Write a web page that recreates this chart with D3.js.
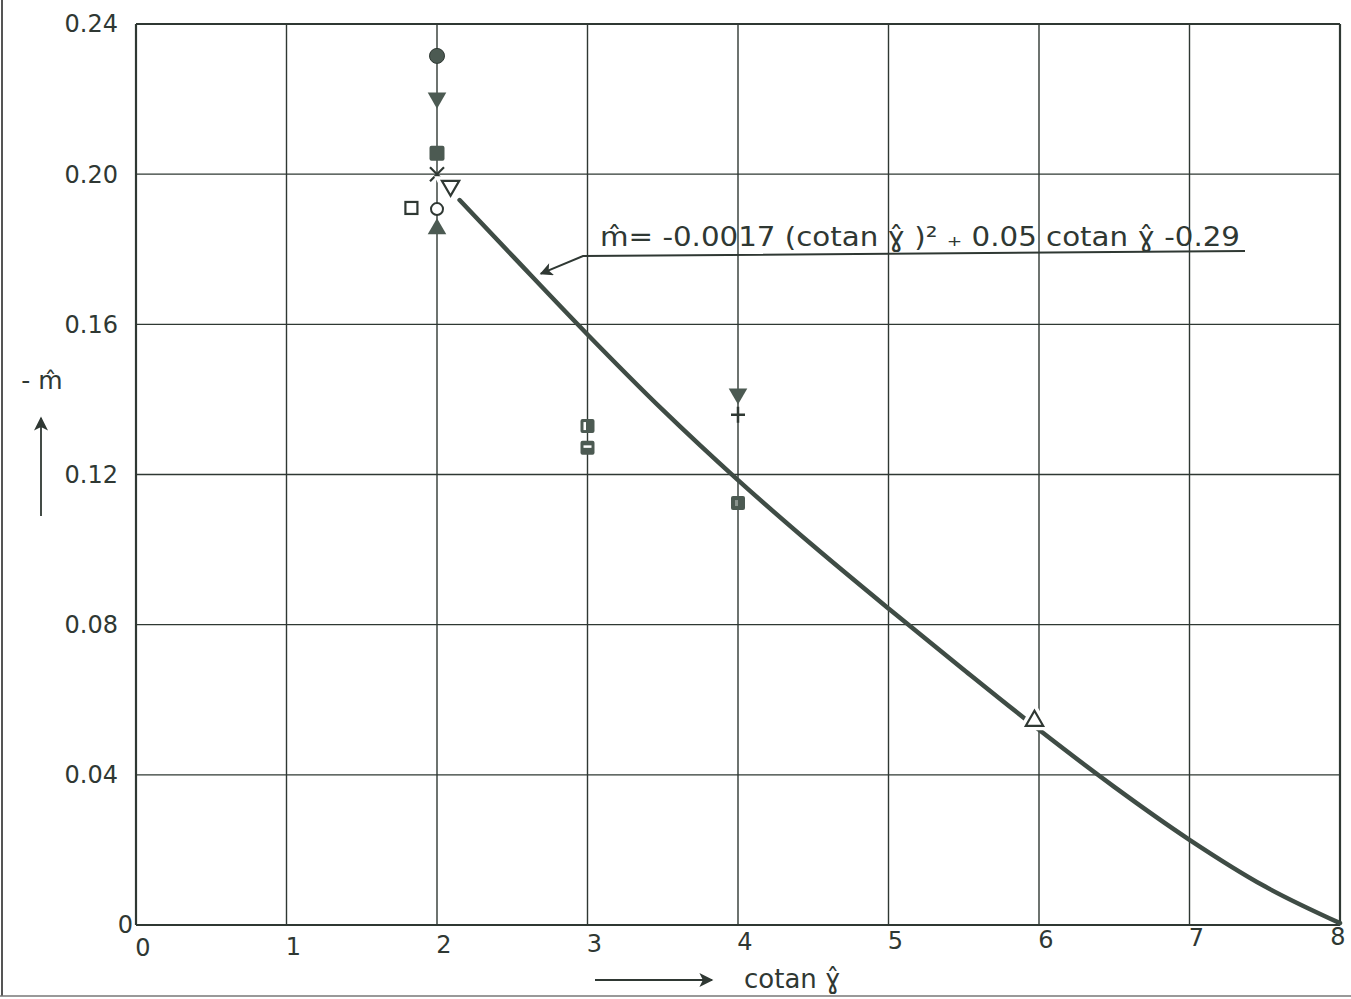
<!DOCTYPE html>
<meta charset="UTF-8">
<script src="https://d3js.org/d3.v7.min.js"></script>
<style>
  body { margin: 0; background: #fff; }
  text { font-family: "DejaVu Sans", sans-serif; fill: #2f3833; }
</style>
<svg id="chart" width="1351" height="999"></svg>
<script>
// axis ticks
var xTicks = [0, 1, 2, 3, 4, 5, 6, 7, 8];
var yTicks = [0, 0.04, 0.08, 0.12, 0.16, 0.20, 0.24];
var yTickLabels = ["0", "0.04", "0.08", "0.12", "0.16", "0.20", "0.24"];

// measured points (cotan gamma, -m)
var pointX     = [2, 2, 2, 2, 2.09, 1.83, 2, 2, 3, 3, 4, 4, 4, 5.97];
var pointY     = [0.2315, 0.2203, 0.2056, 0.200, 0.1969, 0.191, 0.1907, 0.1854, 0.1329, 0.1271, 0.1415, 0.1359, 0.1124, 0.0544];
var pointShape = ["dotFilled", "downFilled", "squareFilled", "cross", "downOpen", "squareOpen", "dotOpen", "upFilled",
                  "squareSplitV", "squareSplitH", "downFilled", "plus", "squareSplitDot", "upOpen"];

// fitted curve
var curveX = [2.15, 2.5, 3, 3.5, 4, 4.5, 5, 5.5, 6, 6.5, 7, 7.5, 8];
var curveY = [0.1931, 0.1783, 0.1573, 0.1372, 0.1185, 0.1010, 0.0843, 0.0680, 0.0520, 0.0368, 0.0227, 0.0103, 0.0005];

var ink = "#2f3833";
var svg = d3.select("#chart");

var x = d3.scaleLinear().domain([0, 8]).range([136, 1340]);
var y = d3.scaleLinear().domain([0, 0.24]).range([925, 24]);

// arrow markers
var defs = svg.append("defs");
function addArrow(id, w, h) {
  defs.append("marker")
      .attr("id", id)
      .attr("viewBox", "0 0 10 10")
      .attr("refX", 9).attr("refY", 5)
      .attr("markerWidth", w).attr("markerHeight", h)
      .attr("markerUnits", "userSpaceOnUse")
      .attr("orient", "auto")
    .append("path")
      .attr("d", "M0,0 L10,5 L0,10 L2.5,5 Z")
      .attr("fill", ink);
}
addArrow("arrow", 20, 13);
addArrow("arrowBig", 20, 14);

// page edge of the scan
svg.append("line").attr("x1", 2).attr("x2", 2).attr("y1", 0).attr("y2", 996)
    .attr("stroke", "#555").attr("stroke-width", 2);
svg.append("line").attr("x1", 0).attr("x2", 1351).attr("y1", 996).attr("y2", 996)
    .attr("stroke", "#777").attr("stroke-width", 1.5);

// grid lines
var grid = svg.append("g");
grid.selectAll(".vx")
  .data(xTicks)
  .enter().append("line")
    .attr("x1", function(d) { return x(d); })
    .attr("x2", function(d) { return x(d); })
    .attr("y1", y(0.24)).attr("y2", y(0))
    .attr("stroke", ink)
    .attr("stroke-width", function(d) { return (d == 0 || d == 8) ? 2.2 : 1.4; });
grid.selectAll(".hy")
  .data(yTicks)
  .enter().append("line")
    .attr("x1", x(0)).attr("x2", x(8))
    .attr("y1", function(d) { return y(d); })
    .attr("y2", function(d) { return y(d); })
    .attr("stroke", ink)
    .attr("stroke-width", function(d) { return (d == 0 || d == 0.24) ? 2.2 : 1.4; });

// tick labels
svg.append("g").selectAll("text")
  .data(xTicks)
  .enter().append("text")
    .attr("x", function(d) { return d == 8 ? x(d) - 2 : x(d) + 7; })
    .attr("y", function(d) { return 956 - d * 1.4; })
    .attr("text-anchor", "middle")
    .style("font-size", "24px")
    .text(function(d) { return d; });

svg.append("g").selectAll("text")
  .data(yTicks)
  .enter().append("text")
    .attr("x", function(d) { return d == 0 ? 133 : 118; })
    .attr("y", function(d) { return y(d); })
    .attr("dy", "0.35em")
    .attr("text-anchor", "end")
    .style("font-size", "24px")
    .text(function(d, i) { return yTickLabels[i]; });

// curve
svg.append("path")
    .datum(curveX.map(function(c, i) { return [c, curveY[i]]; }))
    .attr("fill", "none")
    .attr("stroke", "#3f4c45")
    .attr("stroke-width", 4.5)
    .attr("stroke-linecap", "round")
    .attr("d", d3.line()
      .x(function(d) { return x(d[0]); })
      .y(function(d) { return y(d[1]); })
      .curve(d3.curveMonotoneX));

// points
var tri = d3.symbol().type(d3.symbolTriangle).size(150);
var triOpen = d3.symbol().type(d3.symbolTriangle).size(130);
var pts = svg.append("g");
pointShape.forEach(function(s, i) {
  var g = pts.append("g").attr("transform", "translate(" + x(pointX[i]) + "," + y(pointY[i]) + ")");
  if (s == "dotFilled") {
    g.append("circle").attr("r", 7.5).attr("fill", "#4c5a52").attr("stroke", ink).attr("stroke-width", 1);
  } else if (s == "dotOpen") {
    g.append("circle").attr("r", 6).attr("fill", "#fff").attr("stroke", ink).attr("stroke-width", 2);
  } else if (s == "downFilled" || s == "upFilled") {
    g.append("path").attr("d", tri()).attr("fill", "#4c5a52")
      .attr("transform", s == "downFilled" ? "rotate(180)" : null);
  } else if (s == "downOpen" || s == "upOpen") {
    g.append("path").attr("d", triOpen())
      .attr("fill", "#fff").attr("stroke", "#fff").attr("stroke-width", 9)
      .attr("transform", s == "downOpen" ? "rotate(180)" : null);
    g.append("path").attr("d", triOpen())
      .attr("fill", "#fff").attr("stroke", ink).attr("stroke-width", 2.2)
      .attr("transform", s == "downOpen" ? "rotate(180)" : null);
  } else if (s == "squareFilled") {
    g.append("rect").attr("x", -7.5).attr("y", -7.5).attr("width", 15).attr("height", 15).attr("rx", 2)
      .attr("fill", "#4c5a52");
  } else if (s == "squareOpen") {
    g.append("rect").attr("x", -6).attr("y", -6).attr("width", 12).attr("height", 12)
      .attr("fill", "#fff").attr("stroke", ink).attr("stroke-width", 2.2);
  } else if (s.indexOf("squareSplit") == 0) {
    g.append("rect").attr("x", -7).attr("y", -7).attr("width", 14).attr("height", 14).attr("rx", 2)
      .attr("fill", "#4c5a52");
    if (s == "squareSplitV") {
      g.append("rect").attr("x", -4).attr("y", -4).attr("width", 2.5).attr("height", 8).attr("fill", "#fff");
    } else if (s == "squareSplitH") {
      g.append("rect").attr("x", -4).attr("y", -2.5).attr("width", 8).attr("height", 2.5).attr("fill", "#fff");
    } else {
      g.append("rect").attr("x", -3).attr("y", -3).attr("width", 3).attr("height", 6).attr("fill", "#8a948e");
    }
  } else if (s == "cross") {
    g.append("path").attr("d", "M-7,-7L7,7M-7,7L7,-7").attr("stroke", ink).attr("stroke-width", 2.2);
  } else if (s == "plus") {
    g.append("path").attr("d", "M-7,0L7,0M0,-8L0,8").attr("stroke", ink).attr("stroke-width", 2.5);
  }
});

// equation annotation
svg.append("text")
    .attr("x", 600).attr("y", 246)
    .attr("textLength", 640).attr("lengthAdjust", "spacingAndGlyphs")
    .style("font-size", "26px")
    .text("m\u0302= -0.0017  (cotan \u0263\u0302 )\u00b2 \u208a 0.05 cotan \u0263\u0302  -0.29");
svg.append("path")
    .attr("d", "M1245,251 L583,256 L" + x(2.69) + "," + y(0.1735))
    .attr("fill", "none").attr("stroke", ink).attr("stroke-width", 2)
    .attr("marker-end", "url(#arrow)");

// axis titles
svg.append("text")
    .attr("x", 42).attr("y", 389)
    .attr("text-anchor", "middle")
    .style("font-size", "25px")
    .text("- m\u0302");
svg.append("line")
    .attr("x1", 41).attr("y1", 516).attr("x2", 41).attr("y2", 418)
    .attr("stroke", ink).attr("stroke-width", 1.8)
    .attr("marker-end", "url(#arrowBig)");

svg.append("line")
    .attr("x1", 595).attr("y1", 980).attr("x2", 712).attr("y2", 980)
    .attr("stroke", ink).attr("stroke-width", 1.8)
    .attr("marker-end", "url(#arrowBig)");
svg.append("text")
    .attr("x", 744).attr("y", 988)
    .style("font-size", "26px")
    .text("cotan \u0263\u0302");
</script>
